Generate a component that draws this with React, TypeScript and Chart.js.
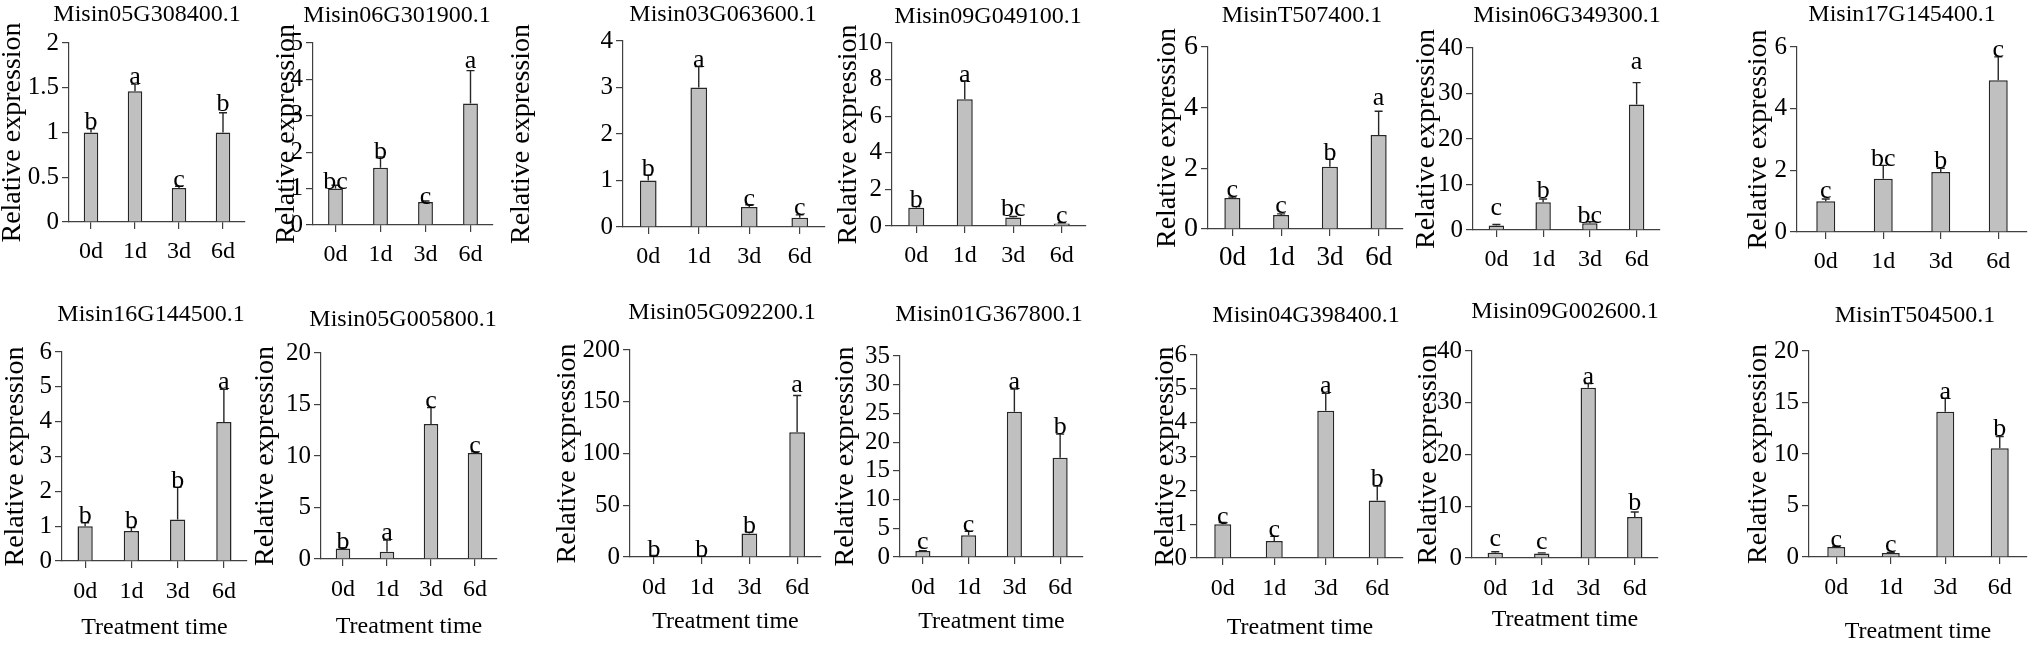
import { useEffect, useRef } from "react";
import { Chart, Plugin, registerables } from "chart.js";

Chart.register(...registerables);

const serif = '"Liberation Serif", "DejaVu Serif", serif';
Chart.defaults.font.family = serif;

const genes = [
  "Misin05G308400.1", "Misin06G301900.1", "Misin03G063600.1", "Misin09G049100.1",
  "MisinT507400.1", "Misin06G349300.1", "Misin17G145400.1",
  "Misin16G144500.1", "Misin05G005800.1", "Misin05G092200.1", "Misin01G367800.1",
  "Misin04G398400.1", "Misin09G002600.1", "MisinT504500.1",
];
const days = ["0d", "1d", "3d", "6d"];

// mean relative expression per gene, one row per panel
const means = [
  [1.0, 1.46, 0.38, 1.0],
  [1.0, 1.57, 0.63, 3.34],
  [1.0, 3.0, 0.43, 0.2],
  [1.0, 6.92, 0.47, 0.13],
  [1.02, 0.46, 2.05, 3.1],
  [1.0, 6.1, 1.5, 27.6],
  [1.0, 1.73, 1.95, 4.92],
  [1.0, 0.86, 1.19, 3.99],
  [1.03, 0.71, 13.1, 10.3],
  [1.0, 0.8, 22.6, 120.5],
  [1.04, 3.77, 25.3, 17.3],
  [1.0, 0.5, 4.35, 1.7],
  [1.0, 0.85, 32.9, 7.9],
  [0.97, 0.39, 14.1, 10.55],
];
// upper error (SD)
const errs = [
  [0.04, 0.08, 0.02, 0.22],
  [0.09, 0.3, 0.03, 0.9],
  [0.12, 0.45, 0.05, 0.06],
  [0.06, 1.0, 0.05, 0.05],
  [0.03, 0.04, 0.25, 0.78],
  [0.2, 0.7, 0.3, 4.8],
  [0.07, 0.43, 0.12, 0.76],
  [0.1, 0.1, 0.93, 0.94],
  [0.07, 1.14, 1.6, 0.1],
  [0.5, 0.2, 1.4, 35.5],
  [0.06, 0.69, 3.96, 4.1],
  [0.05, 0.14, 0.52, 0.43],
  [0.2, 0.15, 0.8, 1.0],
  [0.08, 0.06, 1.3, 1.15],
];
const letters = [
  ["b", "a", "c", "b"],
  ["bc", "b", "c", "a"],
  ["b", "a", "c", "c"],
  ["b", "a", "bc", "c"],
  ["c", "c", "b", "a"],
  ["c", "b", "bc", "a"],
  ["c", "bc", "b", "c"],
  ["b", "b", "b", "a"],
  ["b", "a", "c", "c"],
  ["b", "b", "b", "a"],
  ["c", "c", "a", "b"],
  ["c", "c", "a", "b"],
  ["c", "c", "a", "b"],
  ["c", "c", "a", "b"],
];
// value where each letter sits
const letterAt = [
  [1.05, 1.55, 0.4, 1.25],
  [1.02, 1.85, 0.6, 4.33],
  [1.12, 3.46, 0.47, 0.28],
  [1.1, 7.95, 0.6, 0.22],
  [1.1, 0.55, 2.32, 4.12],
  [3.5, 7.3, 1.8, 35.6],
  [1.12, 2.17, 2.12, 5.7],
  [1.12, 0.98, 2.12, 4.98],
  [1.1, 1.95, 14.75, 10.4],
  [1.0, 1.0, 24.2, 160],
  [1.5, 4.6, 29.4, 21.6],
  [1.03, 0.66, 4.9, 2.16],
  [2.6, 2.0, 33.8, 9.4],
  [1.1, 0.6, 15.4, 11.8],
];
const yMax = [2, 5, 4, 10, 6, 40, 6, 6, 20, 200, 35, 6, 40, 20];
const yStep = [0.5, 1, 1, 2, 2, 10, 2, 1, 5, 50, 5, 1, 10, 5];

// page layout: [axisX, plotRight, plotTop, zeroY, titleX, titleY, yTitleX, xTitleY]
const frames = [
  [69, 245, 43, 222, 147, 15, 13, 0],
  [313, 493, 43, 225, 397, 16, 287, 0],
  [623, 825, 41, 227, 723, 15, 522, 0],
  [892, 1086, 43, 226, 988, 17, 849, 0],
  [1208, 1403, 47, 229, 1302, 16, 1168, 0],
  [1473, 1660, 48, 230, 1567, 16, 1427, 0],
  [1797, 2027, 47, 232, 1902, 15, 1759, 0],
  [62, 247, 352, 561, 151, 315, 16, 628],
  [321, 497, 353, 559, 403, 320, 266, 627],
  [630, 821, 350, 557, 722, 313, 568, 622],
  [900, 1083, 356, 557, 989, 315, 846, 622],
  [1197, 1403, 355, 558, 1306, 316, 1166, 628],
  [1472, 1658, 351, 558, 1565, 312, 1429, 620],
  [1809, 2027, 351, 557, 1915, 316, 1759, 632],
];

const axisColor = "#404040";

function Panel({ idx }: { idx: number }) {
  const canvasRef = useRef<HTMLCanvasElement>(null);
  const [axisX, plotRight, plotTop, zeroY, titleX, titleY, yTitleX, xTitleY] = frames[idx];
  const lower = idx >= 7;
  const boxTop = lower ? 290 : 0;
  const boxH = lower ? 356 : 300;
  const boxLeft = yTitleX - 14;
  const boxW = plotRight + 4 - boxLeft;

  useEffect(() => {
    let chart: Chart | null = null;
    let dead = false;
    const big = idx === 4;
    const tickSize = big ? 28 : 25;
    const catSize = big ? 27 : 24;
    const labelGap = lower ? 31 : big ? 29 : 30;

    const marks: Plugin<"bar"> = {
      id: "marks",
      afterDatasetsDraw(c) {
        const { ctx } = c;
        const x = c.scales.x;
        const y = c.scales.y;
        ctx.save();
        ctx.strokeStyle = "#262626";
        ctx.lineWidth = 1.4;
        means[idx].forEach((m, i) => {
          const px = x.getPixelForValue(i);
          const y0 = y.getPixelForValue(m);
          const y1 = y.getPixelForValue(m + errs[idx][i]);
          ctx.beginPath();
          ctx.moveTo(px, y0);
          ctx.lineTo(px, y1);
          ctx.moveTo(px - 4, y1);
          ctx.lineTo(px + 4, y1);
          ctx.stroke();
        });
        ctx.fillStyle = "#000";
        ctx.textAlign = "center";
        ctx.textBaseline = "alphabetic";
        ctx.font = `26px ${serif}`;
        letters[idx].forEach((t, i) => {
          ctx.fillText(t, x.getPixelForValue(i), y.getPixelForValue(letterAt[idx][i]) + 1);
        });
        ctx.textBaseline = "middle";
        ctx.font = `24px ${serif}`;
        ctx.fillText(genes[idx], titleX - boxLeft, titleY - boxTop);
        ctx.restore();
      },
    };

    const build = () => {
      if (dead || !canvasRef.current) return;
      chart = new Chart(canvasRef.current, {
        type: "bar",
        data: {
          labels: days,
          datasets: [
            {
              data: means[idx],
              backgroundColor: "#c0c0c0",
              borderColor: "#262626",
              borderWidth: 1.5,
              barPercentage: 0.33,
              categoryPercentage: 1,
            },
          ],
        },
        options: {
          animation: false,
          responsive: true,
          maintainAspectRatio: false,
          layout: { padding: { top: plotTop - boxTop, right: 4, left: 0, bottom: 0 } },
          plugins: {
            legend: { display: false },
            tooltip: { enabled: false },
            title: { display: false },
          },
          scales: {
            x: {
              grid: {
                display: true,
                drawOnChartArea: false,
                offset: false,
                tickLength: 7,
                color: axisColor,
                lineWidth: 1.2,
              },
              border: { display: true, color: axisColor, width: 1.2 },
              ticks: {
                color: "#000",
                font: { size: catSize, lineHeight: 1 },
                padding: labelGap - 7 - catSize / 2,
                maxRotation: 0,
                autoSkip: false,
              },
              title: {
                display: lower,
                text: "Treatment time",
                color: "#000",
                font: { size: 24, lineHeight: 1 },
                padding: { top: 0, bottom: lower ? boxTop + boxH - xTitleY - 12 : 0 },
              },
              afterFit: (s) => {
                s.height = boxTop + boxH - zeroY;
              },
            },
            y: {
              min: 0,
              max: yMax[idx],
              ticks: {
                stepSize: yStep[idx],
                autoSkip: false,
                color: "#000",
                font: { size: tickSize, lineHeight: 1 },
                padding: 3,
                callback: (v) => `${Number(v)}`,
              },
              grid: {
                drawOnChartArea: false,
                tickLength: 7,
                color: axisColor,
                lineWidth: 1.2,
              },
              border: { display: true, color: axisColor, width: 1.2 },
              title: {
                display: true,
                text: "Relative expression",
                color: "#000",
                font: { size: 28, lineHeight: 1 },
                padding: 0,
              },
              afterFit: (s) => {
                s.width = axisX - boxLeft;
              },
            },
          },
        },
        plugins: [marks],
      });
    };

    document.fonts.load(`24px "Liberation Serif"`).then(build, build);

    return () => {
      dead = true;
      if (chart) chart.destroy();
    };
  }, [idx]);

  return (
    <div style={{ position: "absolute", left: boxLeft, top: boxTop, width: boxW, height: boxH }}>
      <canvas ref={canvasRef}></canvas>
    </div>
  );
}

export default function App() {
  return (
    <div style={{ position: "relative", width: 2032, height: 646, background: "#fff", overflow: "hidden" }}>
      <style>{"body{margin:0;background:#fff}"}</style>
      <span style={{ position: "absolute", left: -9999, fontFamily: serif }}>Relative expression</span>
      {genes.map((g, i) => (
        <Panel key={g} idx={i} />
      ))}
    </div>
  );
}
